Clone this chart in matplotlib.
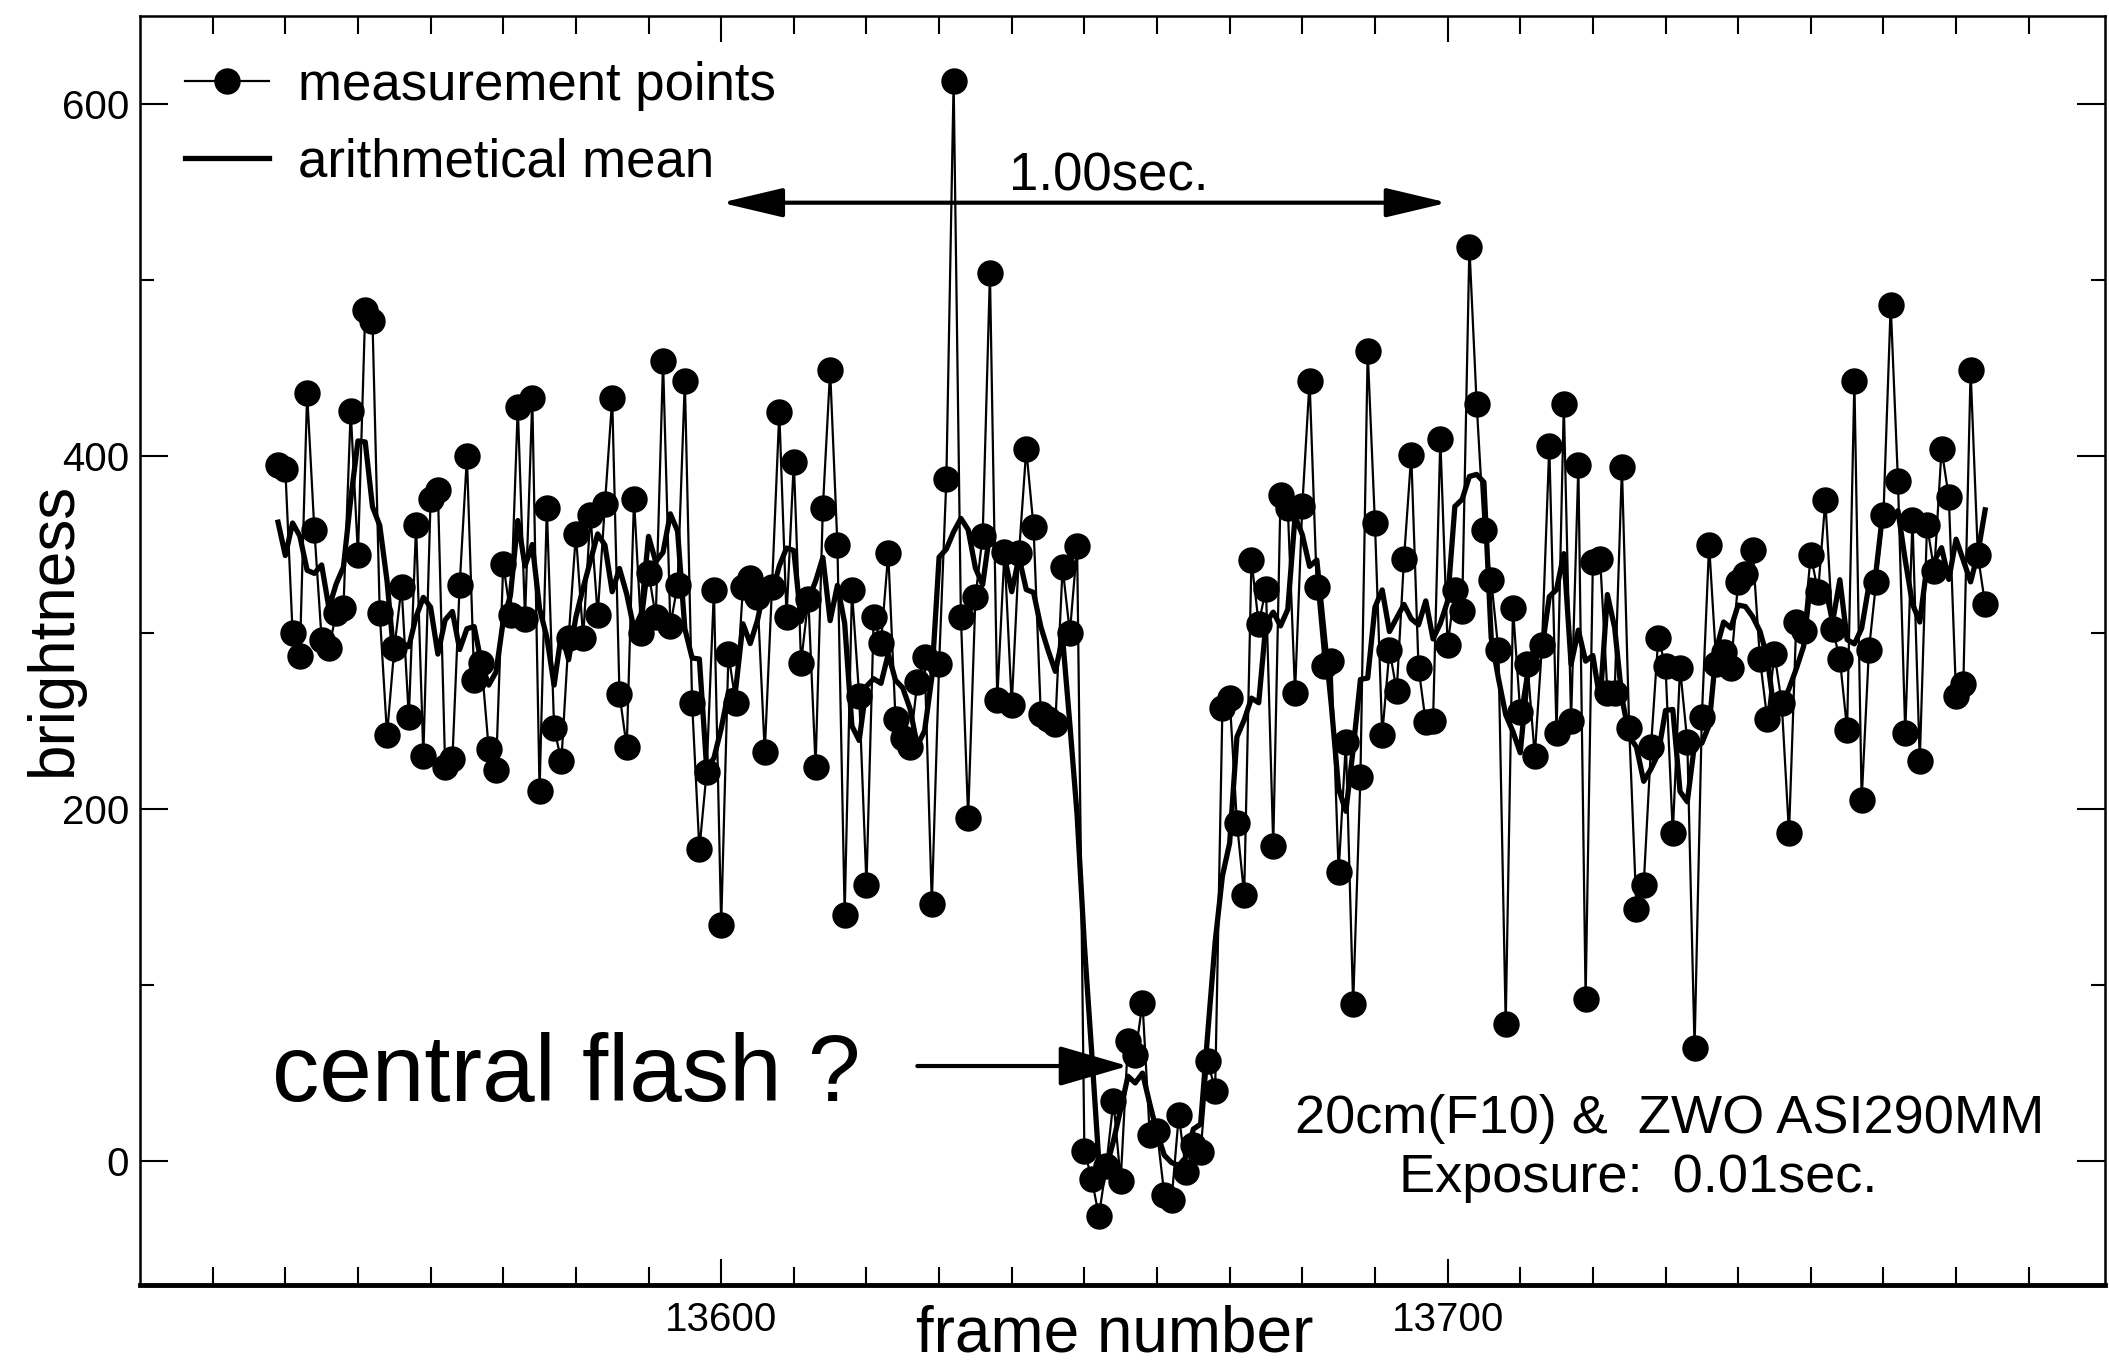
import matplotlib
matplotlib.use("Agg")
import matplotlib.pyplot as plt
import numpy as np
import pandas as pd

plt.rcParams['font.family'] = ['Liberation Sans', 'DejaVu Sans']

# one brightness value per frame, starting at frame 13539
first_frame = 13539
brightness = [
    395, 393, 300, 287, 436, 358, 296, 291, 311, 314,   # 13539-13548
    426, 344, 483, 477, 311, 242, 291, 326, 252, 361,   # 13549-13558
    230, 376, 381, 224, 228, 327, 400, 273, 283, 234,   # 13559-13568
    222, 339, 310, 428, 308, 433, 210, 371, 246, 227,   # 13569-13578
    297, 356, 297, 367, 310, 373, 433, 265, 235, 376,   # 13579-13588
    300, 334, 309, 454, 304, 327, 443, 260, 177, 221,   # 13589-13598
    324, 134, 288, 260, 326, 331, 320, 232, 326, 425,   # 13599-13608
    309, 397, 283, 319, 224, 371, 449, 350, 140, 324,   # 13609-13618
    264, 157, 309, 294, 345, 251, 240, 235, 272, 286,   # 13619-13628
    146, 282, 387, 613, 309, 195, 320, 355, 504, 262,   # 13629-13638
    346, 259, 345, 404, 360, 254, 251, 248, 337, 300,   # 13639-13648
    349, 6, -10, -31, -3, 34, -11, 68, 60, 90,          # 13649-13658
    15, 17, -19, -22, 26, -6, 9, 5, 57, 40,             # 13659-13668
    257, 263, 192, 151, 341, 305, 325, 179, 378, 371,   # 13669-13678
    266, 372, 443, 326, 281, 284, 164, 238, 89, 218,    # 13679-13688
    460, 362, 242, 290, 267, 342, 401, 280, 249, 250,   # 13689-13698
    410, 293, 324, 312, 519, 430, 358, 330, 290, 78,    # 13699-13708
    314, 255, 282, 230, 293, 406, 243, 430, 250, 395,   # 13709-13718
    92, 340, 342, 266, 266, 394, 246, 143, 157, 235,    # 13719-13728
    297, 281, 186, 280, 238, 64, 252, 350, 282, 289,    # 13729-13738
    280, 329, 333, 347, 285, 251, 288, 260, 186, 306,   # 13739-13748
    301, 344, 323, 375, 302, 285, 245, 443, 205, 290,   # 13749-13758
    329, 367, 486, 386, 243, 364, 227, 361, 335, 404,   # 13759-13768
    377, 264, 271, 449, 344, 316,                       # 13769-13774
]
frames = np.arange(first_frame, first_frame + len(brightness))

x_major = [13600, 13700]
x_minor = list(range(13530, 13790, 10))
y_major = [0, 200, 400, 600]
y_minor = [100, 300, 500]

# 5 frame running mean (window shrinks at the ends)
mean = pd.Series(brightness).rolling(5, center=True, min_periods=1).mean()

fig = plt.figure(figsize=(21.09, 13.62), dpi=100)
ax = fig.add_axes([0.0664, 0.0569, 0.9317, 0.9314])

ax.plot(frames, brightness, color='black', lw=1.6, marker='o', markersize=18,
        label='measurement points')
ax.plot(frames, mean, color='black', lw=3.8, label='arithmetical mean')

ax.set_xlim(13520, 13790.5)
ax.set_ylim(-70, 650)
ax.set_xticks(x_major)
ax.set_xticks([t for t in x_minor if t not in x_major], minor=True)
ax.set_yticks(y_major)
ax.set_yticks(y_minor, minor=True)

ax.tick_params(axis='both', which='both', direction='in', top=True, right=True,
               width=1.5, labelsize=29)
ax.tick_params(axis='x', which='major', length=19, pad=12)
ax.tick_params(axis='x', which='minor', length=13)
ax.tick_params(axis='y', which='major', length=20, pad=8)
ax.tick_params(axis='y', which='minor', length=10)

for side in ['left', 'right', 'top']:
    ax.spines[side].set_linewidth(1.8)
ax.spines['bottom'].set_linewidth(3.5)

ax.set_xlabel('frame number', fontsize=46)
ax.xaxis.set_label_coords(0.496, -0.0158)
ax.set_ylabel('brightness', fontsize=46, va='center')
ax.yaxis.set_label_coords(-0.0438, 0.517)

ax.legend(loc='upper left', frameon=False, fontsize=38, handlelength=1.6,
          handletextpad=0.55, labelspacing=0.5, borderaxespad=0.3, borderpad=0.55)

# 1 second span (100 frames)
ax.annotate('', xy=(13600, 544), xytext=(13700, 544),
            arrowprops=dict(arrowstyle='<|-|>,head_length=38,head_width=9',
                            lw=3, color='black', shrinkA=0, shrinkB=0,
                            mutation_scale=1))
ax.text(13653.3, 551, '1.00sec.', fontsize=38, ha='center', va='baseline')

ax.text(13538.1, 34, 'central flash ?', fontsize=68, ha='left', va='baseline')
ax.annotate('', xy=(13656, 54), xytext=(13627, 54),
            arrowprops=dict(arrowstyle='-|>,head_length=43,head_width=12.5',
                            lw=3, color='black', shrinkA=0, shrinkB=0,
                            mutation_scale=1))

ax.text(13730.6, 16, '20cm(F10) &  ZWO ASI290MM', fontsize=39, ha='center', va='baseline')
ax.text(13726.3, -17.6, 'Exposure:  0.01sec.', fontsize=39, ha='center', va='baseline')

fig.savefig('out.png', dpi=100, facecolor='white')
